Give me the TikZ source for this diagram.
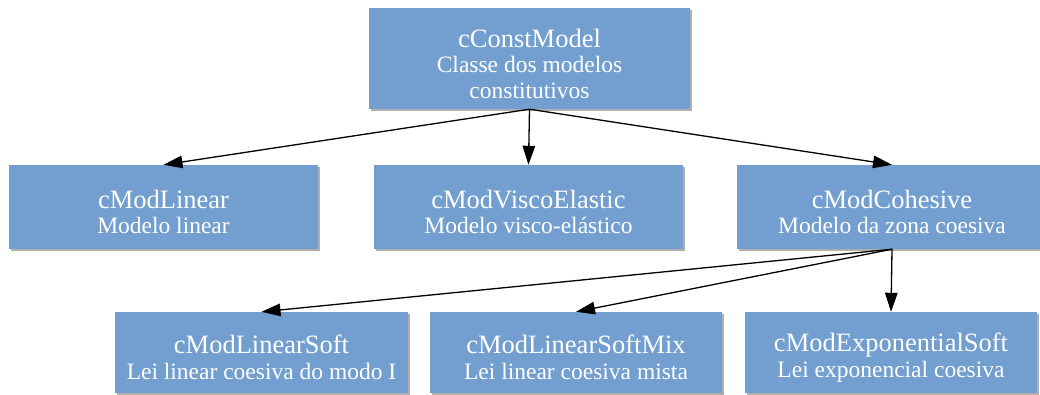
\documentclass[tikz,border=0pt]{standalone}
\usepackage{fontspec}
\setmainfont{Liberation Serif}
\usetikzlibrary{arrows.meta,shadows}
\definecolor{boxblue}{RGB}{114,159,207}
\definecolor{shadowgray}{RGB}{175,175,175}
\newcommand{\ttl}[1]{{\fontsize{26.5}{25.5}\selectfont\rule{0pt}{28.5pt}#1}}
\tikzset{
  box/.style={rectangle, fill=boxblue, text=white, align=center, inner sep=0pt,
    font=\fontsize{23.5}{25.5}\selectfont,
    drop shadow={shadow xshift=2pt, shadow yshift=-2pt, fill=shadowgray, opacity=1}},
  conn/.style={line width=1.3pt, -{Triangle[length=19pt,width=12.5pt]}}
}
\begin{document}
\begin{tikzpicture}[x=1pt,y=-1pt]
\useasboundingbox (0,0) rectangle (1040,394);
\begin{scope}
\clip (0,0) rectangle (1040,394);
\node[box, minimum width=321pt, minimum height=101pt] (root) at (529.5,58.5) {\ttl{cConstModel}\\Classe dos modelos\\constitutivos};
\node[box, minimum width=309pt, minimum height=84pt] (lin) at (163.5,207) {\ttl{cModLinear}\\Modelo linear};
\node[box, minimum width=309pt, minimum height=84pt] (visco) at (528.5,207) {\ttl{cModViscoElastic}\\Modelo visco-elástico};
\node[box, minimum width=310pt, minimum height=84pt] (coh) at (892,207) {\ttl{cModCohesive}\\Modelo da zona coesiva};
\node[box, minimum width=293pt, minimum height=81pt] (ls) at (261.5,352.5) {\ttl{cModLinearSoft}\\Lei linear coesiva do modo I};
\node[box, minimum width=292pt, minimum height=81pt] (lsm) at (576,352.5) {\ttl{cModLinearSoftMix}\\Lei linear coesiva mista};
\node[box, minimum width=292pt, minimum height=81pt] (es) at (891,352.5) {\ttl{cModExponentialSoft}\\Lei exponencial coesiva};
\end{scope}
\draw[conn] (root.south) -- (lin.north);
\draw[conn] (root.south) -- (visco.north);
\draw[conn] (root.south) -- (coh.north);
\draw[conn] (coh.south) -- (ls.north);
\draw[conn] (coh.south) -- (lsm.north);
\draw[conn] (coh.south) -- (es.north);
\end{tikzpicture}
\end{document}
